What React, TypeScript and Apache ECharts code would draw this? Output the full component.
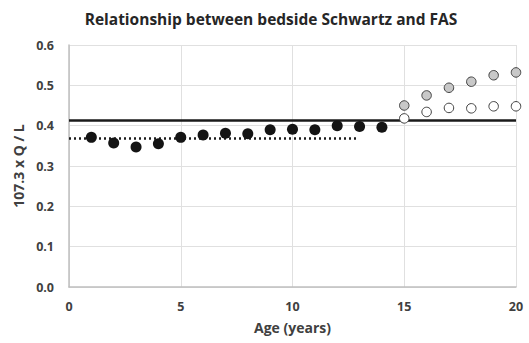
import React, { useEffect, useRef } from "react";
import * as echarts from "echarts";

const blackAges = [1, 2, 3, 4, 5, 6, 7, 8, 9, 10, 11, 12, 13, 14];
const blackValues = [0.371, 0.357, 0.347, 0.355, 0.371, 0.377, 0.381, 0.380, 0.390, 0.391, 0.390, 0.400, 0.398, 0.396];
const olderAges = [15, 16, 17, 18, 19, 20];
const grayValues = [0.450, 0.475, 0.494, 0.509, 0.525, 0.532];
const whiteValues = [0.418, 0.434, 0.444, 0.443, 0.448, 0.448];
const solidLine = [[0, 0.413], [20, 0.413]];
const dottedLine = [[0, 0.368], [12.9, 0.368]];

const FONT = "Open Sans";

export default function App() {
  const ref = useRef<HTMLDivElement>(null);
  useEffect(() => {
    const chart = echarts.init(ref.current!, undefined, { renderer: "svg" });
    chart.setOption({
      animation: false,
      title: {
        text: "Relationship between bedside Schwartz and FAS",
        left: 266,
        top: 6,
        textAlign: "center",
        textStyle: { fontFamily: FONT, fontWeight: "bold", fontSize: 15.5, color: "#262626" },
      },
      grid: { left: 69, right: 13, top: 45, bottom: 56 },
      xAxis: {
        type: "value",
        min: 0,
        max: 20,
        interval: 5,
        name: "Age (years)",
        nameLocation: "middle",
        nameGap: 33,
        nameTextStyle: { fontFamily: FONT, fontWeight: "bold", fontSize: 14, color: "#404040" },
        axisLine: { show: true, lineStyle: { color: "#bfbfbf", width: 1.5 } },
        axisTick: { show: false },
        axisLabel: { fontFamily: FONT, fontWeight: "bold", fontSize: 12.5, color: "#404040", margin: 13 },
        splitLine: { show: true, lineStyle: { color: "#e0e0e0", width: 1 } },
      },
      yAxis: {
        type: "value",
        min: 0,
        max: 0.6,
        interval: 0.1,
        name: "107.3 x Q / L",
        nameLocation: "middle",
        nameGap: 43,
        nameRotate: 90,
        nameTextStyle: { fontFamily: FONT, fontWeight: "bold", fontSize: 14, color: "#404040" },
        axisLine: { show: true, lineStyle: { color: "#bfbfbf", width: 1.5 } },
        axisTick: { show: false },
        axisLabel: {
          fontFamily: FONT, fontWeight: "bold", fontSize: 12.5, color: "#404040", margin: 15,
          formatter: (v: number) => v.toFixed(1),
        },
        splitLine: { show: true, lineStyle: { color: "#e0e0e0", width: 1 } },
      },
      series: [
        {
          type: "line",
          data: solidLine,
          symbol: "none",
          lineStyle: { color: "#1a1a1a", width: 2.5 },
          z: 2,
        },
        {
          type: "line",
          data: dottedLine,
          symbol: "none",
          lineStyle: { color: "#1a1a1a", width: 2.5, type: [2, 3] },
          z: 2,
        },
        {
          type: "scatter",
          data: blackAges.map((a, i) => [a, blackValues[i]]),
          symbolSize: 11,
          itemStyle: { color: "#141414", opacity: 1, borderWidth: 0 },
          z: 3,
        },
        {
          type: "scatter",
          data: olderAges.map((a, i) => [a, grayValues[i]]),
          symbolSize: 9.5,
          itemStyle: { color: "#c8c8c8", opacity: 1, borderColor: "#404040", borderWidth: 1 },
          z: 3,
        },
        {
          type: "scatter",
          data: olderAges.map((a, i) => [a, whiteValues[i]]),
          symbolSize: 9.5,
          itemStyle: { color: "#ffffff", opacity: 1, borderColor: "#404040", borderWidth: 1 },
          z: 3,
        },
      ],
    });
    return () => chart.dispose();
  }, []);
  return <div ref={ref} style={{ width: 529, height: 343, position: "absolute", left: 0, top: 0 }} />;
}
